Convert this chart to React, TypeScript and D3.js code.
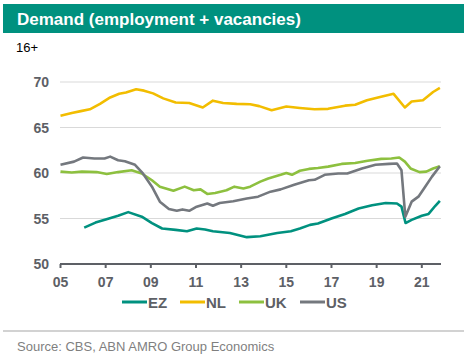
import React from "react";
import * as d3 from "d3";

// values (year as decimal, share in %)
const nlData = [
  [2005.0, 66.3], [2005.5, 66.6], [2005.9, 66.8], [2006.3, 67.0], [2006.75, 67.6],
  [2007.2, 68.3], [2007.6, 68.7], [2007.9, 68.85], [2008.35, 69.2], [2008.7, 69.05],
  [2009.1, 68.75], [2009.55, 68.2], [2010.1, 67.75], [2010.7, 67.7], [2011.3, 67.2],
  [2011.75, 67.95], [2012.2, 67.7], [2012.8, 67.6], [2013.4, 67.55], [2013.8, 67.35],
  [2014.35, 66.9], [2015.0, 67.3], [2015.6, 67.15], [2016.25, 67.0], [2016.85, 67.05],
  [2017.6, 67.4], [2018.05, 67.5], [2018.57, 68.0], [2019.15, 68.35], [2019.75, 68.7],
  [2020.25, 67.2], [2020.55, 67.85], [2021.05, 68.0], [2021.5, 68.9], [2021.8, 69.35],
];

const ukData = [
  [2005.0, 60.15], [2005.5, 60.05], [2005.95, 60.15], [2006.6, 60.1], [2007.05, 59.9],
  [2007.55, 60.1], [2008.15, 60.3], [2008.6, 59.95], [2009.05, 59.2], [2009.4, 58.5],
  [2010.0, 58.05], [2010.5, 58.5], [2010.9, 58.1], [2011.2, 58.2], [2011.5, 57.7],
  [2011.85, 57.8], [2012.35, 58.1], [2012.7, 58.5], [2013.1, 58.3], [2013.4, 58.5],
  [2013.85, 59.05], [2014.2, 59.4], [2014.75, 59.8], [2015.0, 60.0], [2015.25, 59.8],
  [2015.6, 60.25], [2016.0, 60.45], [2016.4, 60.55], [2016.85, 60.7], [2017.45, 61.0],
  [2018.05, 61.1], [2018.6, 61.35], [2019.2, 61.55], [2019.65, 61.6], [2020.0, 61.7],
  [2020.25, 61.25], [2020.5, 60.5], [2020.9, 60.1], [2021.2, 60.15], [2021.5, 60.5],
  [2021.8, 60.75],
];

const usData = [
  [2005.0, 60.9], [2005.6, 61.25], [2006.0, 61.7], [2006.5, 61.6], [2006.95, 61.6],
  [2007.2, 61.8], [2007.55, 61.4], [2007.85, 61.3], [2008.3, 60.9], [2008.65, 59.95],
  [2009.05, 58.5], [2009.4, 56.85], [2009.8, 56.05], [2010.15, 55.85], [2010.4, 56.0],
  [2010.7, 55.85], [2011.03, 56.3], [2011.5, 56.65], [2011.75, 56.4], [2012.05, 56.7],
  [2012.65, 56.9], [2013.25, 57.2], [2013.75, 57.4], [2014.3, 57.95], [2014.75, 58.2],
  [2015.35, 58.7], [2016.0, 59.2], [2016.25, 59.25], [2016.7, 59.8], [2017.3, 59.95],
  [2017.7, 59.95], [2018.35, 60.5], [2018.95, 60.9], [2019.55, 61.0], [2019.9, 61.05],
  [2020.1, 60.3], [2020.27, 55.2], [2020.55, 56.85], [2020.85, 57.4], [2021.15, 58.5],
  [2021.45, 59.6], [2021.8, 60.75],
];

const ezData = [
  [2006.05, 54.0], [2006.55, 54.55], [2007.0, 54.9], [2007.55, 55.3], [2008.0, 55.7],
  [2008.6, 55.2], [2009.05, 54.5], [2009.5, 53.9], [2010.1, 53.75], [2010.6, 53.6],
  [2011.03, 53.9], [2011.4, 53.8], [2011.75, 53.6], [2012.5, 53.4], [2013.25, 52.95],
  [2013.85, 53.05], [2014.6, 53.4], [2015.2, 53.6], [2015.6, 53.9], [2016.05, 54.3],
  [2016.4, 54.45], [2017.0, 55.0], [2017.6, 55.5], [2018.2, 56.1], [2018.8, 56.45],
  [2019.4, 56.7], [2019.9, 56.65], [2020.1, 56.3], [2020.28, 54.5], [2020.55, 54.85],
  [2021.0, 55.3], [2021.3, 55.5], [2021.6, 56.4], [2021.8, 56.95],
];

const seriesNames = ["EZ", "NL", "UK", "US"];
const seriesColors = ["#00917f", "#f2bd00", "#8dc03f", "#74787e"];
const xTicks = [2005, 2007, 2009, 2011, 2013, 2015, 2017, 2019, 2021];
const yTicks = [50, 55, 60, 65, 70];

export default function App() {
  const W = 470, H = 358;
  const x = d3.scaleLinear().domain([2005, 2021.85]).range([60.5, 441]);
  const y = d3.scaleLinear().domain([50, 70]).range([264, 82]);
  const line = d3.line<number[]>().x((d) => x(d[0])).y((d) => y(d[1]));

  // drawing order: NL first, then UK, US, EZ on top
  const drawOrder = [
    { data: nlData, c: seriesColors[1] },
    { data: ukData, c: seriesColors[2] },
    { data: ezData, c: seriesColors[0] },
    { data: usData, c: seriesColors[3] },
  ];

  const legendX = [122, 180, 239, 300];
  const font = "'Liberation Sans', Arial, sans-serif";

  return (
    <svg width={W} height={H} style={{ position: "absolute", left: 0, top: 0 }} fontFamily={font}>
      <rect x={0} y={0} width={W} height={H} fill="#fff" />
      {/* title bar */}
      <rect x={3} y={4} width={461} height={29} fill="#00917f" />
      <text x={17} y={25} fill="#fff" fontSize={17} fontWeight="bold">
        Demand (employment + vacancies)
      </text>
      <text x={16} y={52} fontSize={13} fill="#000">16+</text>

      {/* gridlines */}
      {yTicks.filter((t) => t > 50).map((t) => (
        <line key={t} x1={60} x2={441} y1={y(t)} y2={y(t)} stroke="#d9d9d9" strokeWidth={1} />
      ))}
      {yTicks.map((t) => (
        <text key={"yl" + t} x={49} y={y(t) + 5} textAnchor="end" fontSize={14} fontWeight="bold" fill="#5d6066">
          {t}
        </text>
      ))}

      {/* lines */}
      {drawOrder.map((s, i) => (
        <path key={i} d={line(s.data) || ""} fill="none" stroke={s.c} strokeWidth={2.6} strokeLinejoin="round" />
      ))}

      {/* x axis */}
      <line x1={60} x2={441} y1={y(50)} y2={y(50)} stroke="#5d6066" strokeWidth={2} />
      {xTicks.map((t) => (
        <g key={t}>
          <line x1={x(t)} x2={x(t)} y1={y(50)} y2={y(50) + 4} stroke="#5d6066" strokeWidth={2} />
          <text x={x(t)} y={287} textAnchor="middle" fontSize={14} fontWeight="bold" fill="#5d6066">
            {String(t % 100).padStart(2, "0")}
          </text>
        </g>
      ))}

      {/* legend */}
      {seriesNames.map((n, i) => (
        <g key={n}>
          <line x1={legendX[i]} x2={legendX[i] + 25} y1={302} y2={302} stroke={seriesColors[i]} strokeWidth={3} />
          <text x={legendX[i] + 26} y={307.5} fontSize={15} fontWeight="bold" fill="#5d6066">{n}</text>
        </g>
      ))}

      {/* footer */}
      <line x1={3} x2={464} y1={331} y2={331} stroke="#a6a6a6" strokeWidth={1.2} />
      <text x={17} y={351} fontSize={13} fill="#7f7f7f">Source: CBS, ABN AMRO Group Economics</text>
    </svg>
  );
}
